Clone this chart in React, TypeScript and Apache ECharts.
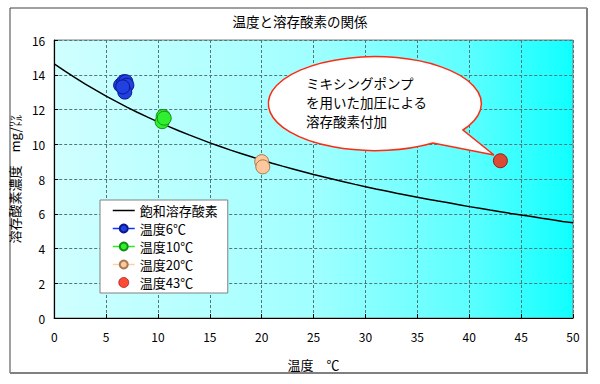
import React, { useEffect, useRef } from "react";
import * as echarts from "echarts";

const temps: number[] = [
  0, 1, 2, 3, 4, 5, 6, 7, 8, 9, 10, 11, 12, 13, 14, 15, 16, 17, 18, 19, 20,
  21, 22, 23, 24, 25, 26, 27, 28, 29, 30, 31, 32, 33, 34, 35, 36, 37, 38, 39,
  40, 41, 42, 43, 44, 45, 46, 47, 48, 49, 50,
];
const saturated: number[] = [
  14.62, 14.22, 13.83, 13.46, 13.11, 12.77, 12.45, 12.14, 11.84, 11.56, 11.29,
  11.03, 10.78, 10.54, 10.31, 10.08, 9.87, 9.66, 9.47, 9.28, 9.09, 8.91, 8.74,
  8.58, 8.42, 8.26, 8.11, 7.97, 7.83, 7.69, 7.56, 7.43, 7.31, 7.18, 7.07, 6.95,
  6.84, 6.73, 6.63, 6.52, 6.41, 6.31, 6.21, 6.12, 6.02, 5.93, 5.84, 5.74, 5.65,
  5.56, 5.48,
];
const t6: number[][] = [
  [6.4, 13.4],
  [6.7, 13.6],
  [6.9, 13.6],
  [7.0, 13.4],
  [6.8, 13.0],
  [6.6, 13.3],
];
const t10: number[][] = [
  [10.5, 11.6],
  [10.4, 11.3],
  [10.6, 11.5],
];
const t20: number[][] = [
  [20.0, 9.0],
  [20.1, 8.7],
];
const t43: number[][] = [[43.0, 9.05]];

const seriesNames = ["飽和溶存酸素", "温度6℃", "温度10℃", "温度20℃", "温度43℃"];
const titleText = "温度と溶存酸素の関係";
const xName = "温度　℃";
const yName = "溶存酸素濃度　mg/㍑";
const calloutLines = ["ミキシングポンプ", "を用いた加圧による", "溶存酸素付加"];

const FONT = "'Noto Sans CJK JP', 'Noto Sans', sans-serif";

let registered = false;

export default function App() {
  const ref = useRef<HTMLDivElement>(null);

  useEffect(() => {
    if (!ref.current) return;
    if (!registered) {
      echarts.graphic.registerShape(
        "bubble",
        echarts.graphic.extendPath(
          "M494 155 L463 130 A106.5 47 0 1 0 433 143 Z",
          {}
        ) as any
      );
      registered = true;
    }
    const chart = echarts.init(ref.current, undefined, { renderer: "svg" });

    const dotSeries = (name: string, data: number[][], fill: string, border: string) => ({
      name,
      type: "line",
      data,
      symbol: "circle",
      symbolSize: 14,
      itemStyle: { color: fill, borderColor: border, borderWidth: 1 },
      lineStyle: { width: 0, color: fill },
      z: 3,
    });

    const calloutTexts = calloutLines.map((line, i) => ({
      type: "text",
      silent: true,
      x: 306,
      y: 82.5 + i * 19,
      z: 11,
      style: {
        text: line,
        fill: "#000",
        fontSize: 13.5,
        fontFamily: FONT,
        verticalAlign: "middle",
        textVerticalAlign: "middle",
      },
    }));

    chart.setOption({
      animation: false,
      textStyle: { fontFamily: FONT },
      title: {
        text: titleText,
        left: "center",
        top: 9,
        textStyle: { fontSize: 13.5, fontWeight: "normal", color: "#000", fontFamily: FONT },
      },
      grid: {
        left: 52,
        right: 27,
        top: 40,
        bottom: 66,
        show: true,
        borderColor: "#808080",
        borderWidth: 1,
        backgroundColor: {
          type: "linear",
          x: 0,
          y: 0,
          x2: 1,
          y2: 0,
          colorStops: [
            { offset: 0, color: "#d0ffff" },
            { offset: 0.5, color: "#a0ffff" },
            { offset: 0.8, color: "#5cffff" },
            { offset: 1, color: "#10ffff" },
          ],
        },
      },
      legend: {
        orient: "vertical",
        left: 100,
        top: 200,
        width: 130,
        backgroundColor: "#ffffff",
        borderColor: "#808080",
        borderWidth: 1,
        borderRadius: 0,
        padding: [4, 10, 4, 12],
        itemGap: 5,
        itemWidth: 22,
        itemHeight: 10,
        textStyle: { fontSize: 13, color: "#000", fontFamily: FONT },
        data: [
          {
            name: seriesNames[0],
            itemStyle: { color: "rgba(0,0,0,0)", borderWidth: 0, opacity: 0 },
            lineStyle: { width: 1.5, color: "#000", opacity: 1 },
          },
          { name: seriesNames[1], lineStyle: { width: 1.5, color: "#1030ff" } },
          { name: seriesNames[2], lineStyle: { width: 1.5, color: "#20ee20" } },
          { name: seriesNames[3], lineStyle: { width: 1.5, color: "#fcd0a8" } },
          { name: seriesNames[4], icon: "circle", itemStyle: { borderWidth: 0.8 } },
        ],
      },
      xAxis: {
        type: "value",
        min: 0,
        max: 50,
        interval: 5,
        name: xName,
        nameLocation: "middle",
        nameGap: 40,
        nameTextStyle: { fontSize: 13, color: "#000", fontFamily: FONT },
        axisLine: { show: true, lineStyle: { color: "#000", width: 1.2 } },
        axisTick: { show: true, inside: true, length: 4, lineStyle: { color: "#000" } },
        axisLabel: { fontSize: 12, color: "#000", margin: 12 },
        splitLine: { show: true, lineStyle: { color: "#4f7878", type: [3, 2], width: 1 } },
      },
      yAxis: {
        type: "value",
        min: 0,
        max: 16,
        interval: 2,
        name: yName,
        nameLocation: "middle",
        nameGap: 24,
        nameRotate: 90,
        nameTextStyle: { fontSize: 13, color: "#000", fontFamily: FONT },
        axisLine: { show: true, lineStyle: { color: "#000", width: 1.2 } },
        axisTick: { show: true, inside: true, length: 4, lineStyle: { color: "#000" } },
        axisLabel: { fontSize: 12, color: "#000", margin: 9 },
        splitLine: { show: true, lineStyle: { color: "#4f7878", type: [3, 2], width: 1 } },
      },
      series: [
        {
          name: seriesNames[0],
          type: "line",
          data: temps.map((t, i) => [t, saturated[i]]),
          symbol: "none",
          lineStyle: { color: "#000", width: 1.5 },
          itemStyle: { color: "#000" },
          z: 2,
        },
        dotSeries(seriesNames[1], t6, "#2040e0", "#0a1890"),
        dotSeries(seriesNames[2], t10, "#30ee30", "#119011"),
        dotSeries(seriesNames[3], t20, "#fcc89c", "#a87850"),
        {
          name: seriesNames[4],
          type: "scatter",
          data: t43,
          symbol: "circle",
          symbolSize: 14,
          itemStyle: { color: "#ff1e00", borderColor: "#8a0000", borderWidth: 1 },
          z: 3,
        },
      ],
      graphic: [
        {
          type: "polyline",
          silent: true,
          shape: { points: [[10, 373], [10, 8], [587, 8]] },
          style: { stroke: "#404040", lineWidth: 1, fill: null },
        },
        {
          type: "polyline",
          silent: true,
          shape: { points: [[587, 8], [587, 373], [10, 373]] },
          style: { stroke: "#808080", lineWidth: 2, fill: null },
        },
        {
          type: "bubble",
          silent: true,
          x: 0,
          y: 0,
          z: 10,
          style: { fill: "#ffffff", stroke: "#ff2a10", lineWidth: 1.5 },
        },
        ...calloutTexts,
      ],
    });

    return () => {
      chart.dispose();
    };
  }, []);

  return (
    <div
      ref={ref}
      style={{ position: "fixed", left: 0, top: 0, width: 600, height: 384, background: "#fff" }}
    />
  );
}
